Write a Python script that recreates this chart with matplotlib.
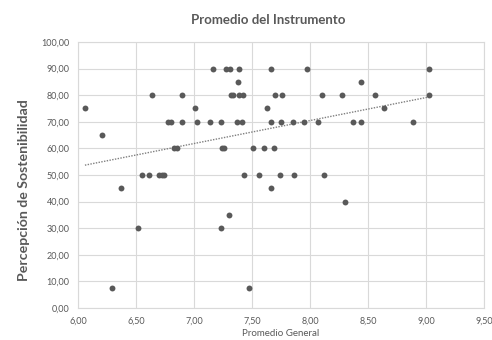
import numpy as np
import matplotlib.pyplot as plt
from matplotlib.ticker import FuncFormatter

plt.rcParams['font.family'] = ['Lato', 'DejaVu Sans']

# Promedio General (x) y Percepción de Sostenibilidad (y)
promedio = [6.06, 6.21, 6.29, 6.37, 6.52, 6.55, 6.61, 6.64, 6.70, 6.72, 6.74,
            6.78, 6.80, 6.83, 6.85, 6.90, 6.90, 7.01, 7.03, 7.14, 7.16, 7.23,
            7.23, 7.24, 7.26, 7.28, 7.30, 7.31, 7.32, 7.34, 7.37, 7.38, 7.39,
            7.39, 7.41, 7.42, 7.43, 7.47, 7.51, 7.56, 7.60, 7.63, 7.66, 7.66,
            7.66, 7.69, 7.70, 7.74, 7.75, 7.76, 7.85, 7.86, 7.95, 7.97, 8.07,
            8.10, 8.12, 8.28, 8.30, 8.37, 8.44, 8.44, 8.56, 8.64, 8.89, 9.03,
            9.03]
percepcion = [75, 65, 7.5, 45, 30, 50, 50, 80, 50, 50, 50,
              70, 70, 60, 60, 80, 70, 75, 70, 70, 90, 70,
              30, 60, 60, 90, 35, 90, 80, 80, 70, 85, 80,
              90, 70, 80, 50, 7.5, 60, 50, 60, 75, 90, 70,
              45, 60, 80, 50, 70, 80, 70, 50, 70, 90, 70,
              80, 50, 80, 40, 70, 85, 70, 80, 75, 70, 90,
              80]

fig = plt.figure(figsize=(4.92, 3.40), dpi=100)
ax = fig.add_axes([0.1585, 0.0941, 0.8252, 0.7824])

ax.scatter(promedio, percepcion, s=18, color='#595959', zorder=3, linewidths=0)

# linea de tendencia lineal
m, b = np.polyfit(promedio, percepcion, 1)
xt = np.array([min(promedio), max(promedio)])
ax.plot(xt, m * xt + b, color='#7f7f7f', linestyle=(0, (1, 1)), linewidth=1, zorder=2)

ax.set_xlim(6, 9.5)
ax.set_ylim(0, 100)
ax.set_xticks(np.arange(6, 9.51, 0.5))
ax.set_yticks(np.arange(0, 100.1, 10))
fmt = FuncFormatter(lambda v, p: f'{v:.2f}'.replace('.', ','))
ax.xaxis.set_major_formatter(fmt)
ax.yaxis.set_major_formatter(fmt)
ax.tick_params(length=0, labelsize=6.5, colors='#595959', pad=6)
ax.grid(True, color='#d9d9d9', linewidth=0.8)
ax.set_axisbelow(True)
for s in ax.spines.values():
    s.set_color('#d9d9d9')

fig.text(0.545, 0.941, 'Promedio del Instrumento', fontsize=9.5, fontweight='bold',
         color='#595959', ha='center', va='center')
ax.set_xlabel('Promedio General', fontsize=7, color='#595959')
ax.xaxis.set_label_coords(0.5, -0.08)
ax.set_ylabel('Percepción de Sostenibilidad', fontsize=10.2, fontweight='bold', color='#595959')
ax.yaxis.set_label_coords(-0.118, 0.444)

fig.savefig('out.png', dpi=100)
